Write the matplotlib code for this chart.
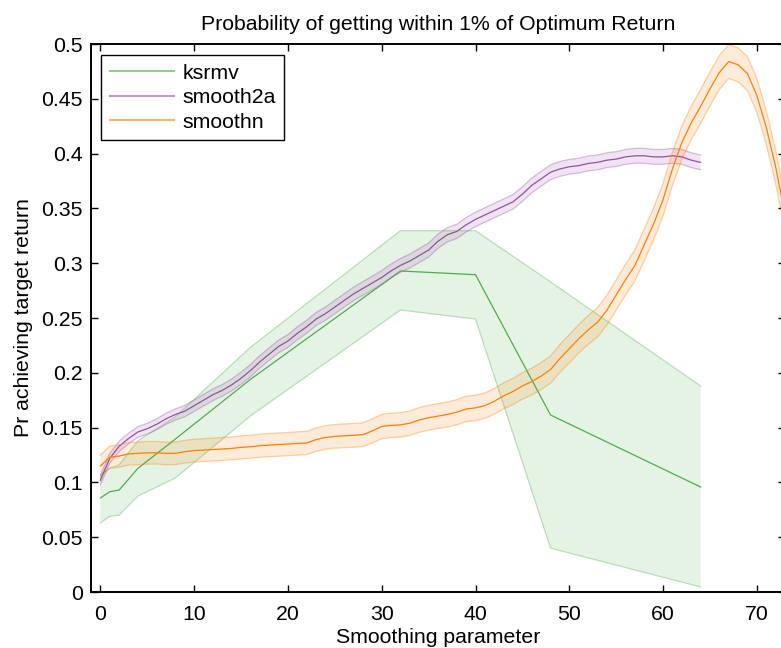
import numpy as np
import matplotlib
matplotlib.use("Agg")
import matplotlib.pyplot as plt
from matplotlib.lines import Line2D

plt.rcParams['font.family'] = ['Liberation Sans', 'DejaVu Sans']

# ksrmv: evaluated at a few smoothing values, with its own lower/upper bounds
ks_x = [0, 1, 2, 4, 8, 16, 32, 40, 48, 64]
ks_mid = [0.0858, 0.0915, 0.093, 0.1128, 0.1396, 0.194, 0.2929, 0.2895, 0.1615, 0.0958]
ks_lo = [0.063, 0.069, 0.070, 0.0876, 0.104, 0.1606, 0.2573, 0.249, 0.040, 0.0046]
ks_hi = [0.107, 0.113, 0.116, 0.138, 0.160, 0.2233, 0.3297, 0.3297, 0.283, 0.188]

# smooth2a, every integer smoothing value 0..64
s2_y = [0.102, 0.122, 0.133, 0.140, 0.146, 0.149, 0.153, 0.158, 0.162, 0.165,
        0.170, 0.175, 0.180, 0.184, 0.189, 0.195, 0.202, 0.210, 0.217, 0.224,
        0.229, 0.236, 0.242, 0.249, 0.254, 0.260, 0.266, 0.272, 0.277, 0.282,
        0.287, 0.293, 0.298, 0.302, 0.307, 0.312, 0.320, 0.326, 0.329, 0.335,
        0.340, 0.344, 0.348, 0.352, 0.356, 0.363, 0.371, 0.377, 0.383, 0.386,
        0.388, 0.389, 0.391, 0.392, 0.394, 0.395, 0.397, 0.398, 0.398, 0.397,
        0.397, 0.398, 0.397, 0.394, 0.392]
s2_x = np.arange(len(s2_y))
s2_trials = 20000

# smoothn, every integer smoothing value 0..73
sn_y = [0.115, 0.123, 0.124, 0.126, 0.1265, 0.127, 0.127, 0.1265, 0.1265, 0.128,
        0.129, 0.1295, 0.130, 0.1305, 0.131, 0.132, 0.1325, 0.1335, 0.134, 0.1345,
        0.135, 0.1355, 0.136, 0.139, 0.141, 0.142, 0.1425, 0.143, 0.1435, 0.147,
        0.151, 0.152, 0.1525, 0.154, 0.157, 0.159, 0.1605, 0.162, 0.164, 0.167,
        0.168, 0.170, 0.174, 0.179, 0.183, 0.188, 0.192, 0.197, 0.203, 0.213,
        0.222, 0.231, 0.239, 0.246, 0.257, 0.271, 0.285, 0.298, 0.317, 0.336,
        0.358, 0.386, 0.410, 0.428, 0.443, 0.459, 0.474, 0.484, 0.481, 0.473,
        0.453, 0.424, 0.388, 0.345]
sn_x = np.arange(len(sn_y))
sn_trials = 4000

names = ['ksrmv', 'smooth2a', 'smoothn']
colors = ['#4daf4a', '#984ea3', '#ff7f00']

yticks = np.arange(0, 0.501, 0.05)
yticklabels = ['0', '0.05', '0.1', '0.15', '0.2', '0.25', '0.3', '0.35', '0.4', '0.45', '0.5']
xticks = np.arange(0, 71, 10)

fs = 15.3


def ci(p, n):
    # 95% binomial interval half-width
    p = np.asarray(p)
    return 1.96 * np.sqrt(p * (1 - p) / n)


def band(ax, x, lo, hi, mid, c):
    ax.fill_between(x, lo, hi, facecolor=c, alpha=0.15, linewidth=0)
    ax.plot(x, lo, color=c, alpha=0.35, lw=0.9)
    ax.plot(x, hi, color=c, alpha=0.35, lw=0.9)
    ax.plot(x, mid, color=c, lw=0.9)


fig = plt.figure(figsize=(7.81, 6.48), dpi=100)
ax = fig.add_axes([91 / 781, 56 / 648, 694 / 781, 548 / 648])

band(ax, ks_x, ks_lo, ks_hi, ks_mid, colors[0])
e = ci(s2_y, s2_trials)
band(ax, s2_x, np.array(s2_y) - e, np.array(s2_y) + e, s2_y, colors[1])
e = ci(sn_y, sn_trials)
band(ax, sn_x, np.array(sn_y) - e, np.array(sn_y) + e, sn_y, colors[2])

ax.set_xlim(-1, 73)
ax.set_ylim(0, 0.5)
ax.set_xticks(xticks)
ax.set_yticks(yticks)
ax.set_yticklabels(yticklabels)
ax.tick_params(direction='in', top=True, right=True, length=5, width=1,
               labelsize=fs)
ax.tick_params(axis='x', pad=9)
ax.tick_params(axis='y', pad=6)
for s in ax.spines.values():
    s.set_linewidth(1.4)

ax.set_title('Probability of getting within 1% of Optimum Return', fontsize=fs, pad=10)
ax.set_xlabel('Smoothing parameter', fontsize=fs, labelpad=3)
ax.set_ylabel('Pr achieving target return', fontsize=fs, labelpad=6)

handles = [Line2D([], [], color=c, alpha=0.6, lw=1.5) for c in colors]
leg = ax.legend(handles, names, loc='upper left', bbox_to_anchor=(10 / 694, 1 - 11 / 548),
                borderaxespad=0, fontsize=fs, handlelength=3.0, handletextpad=0.4,
                labelspacing=0.25, borderpad=0.42, fancybox=False, framealpha=1,
                edgecolor='black')
leg.get_frame().set_linewidth(1.0)

fig.savefig('out.png', dpi=100)
